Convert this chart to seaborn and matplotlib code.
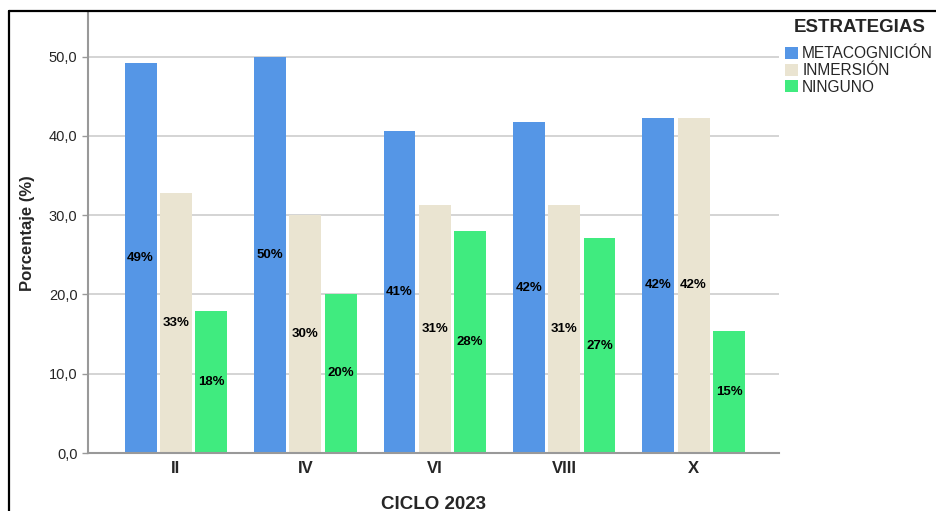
import matplotlib
matplotlib.use('Agg')
import matplotlib.pyplot as plt
from matplotlib.lines import Line2D
import seaborn as sns
import pandas as pd

# Data
ciclos = ['II', 'IV', 'VI', 'VIII', 'X']
estrategias = ['METACOGNICIÓN', 'INMERSIÓN', 'NINGUNO']
metacognicion = [49.2, 50.0, 40.6, 41.7, 42.3]
inmersion = [32.8, 30.0, 31.3, 31.3, 42.3]
ninguno = [17.9, 20.1, 28.0, 27.1, 15.4]
colores = ['#5596E6', '#EAE4D1', '#40EB7F']

df = pd.DataFrame({
    'ciclo': ciclos * 3,
    'estrategia': [e for e in estrategias for _ in ciclos],
    'pct': metacognicion + inmersion + ninguno,
})

sns.set_style('white')
plt.rcParams['font.family'] = ['Liberation Sans', 'DejaVu Sans']

fig = plt.figure(figsize=(9.37, 5.11), dpi=100)
ax = fig.add_axes([0.0939, 0.1135, 0.7375, 0.861])

sns.barplot(data=df, x='ciclo', y='pct', hue='estrategia', order=ciclos,
            hue_order=estrategias, palette=colores, width=0.82, gap=0.1,
            saturation=1, linewidth=0, ax=ax)

for cont in ax.containers:
    ax.bar_label(cont, labels=[f'{v:.0f}%' for v in cont.datavalues],
                 label_type='center', fontsize=9.5, fontweight='bold', color='black')

ax.set_ylim(0, 55.5)
ax.set_xlim(-0.68, 4.66)
ax.set_yticks([0, 10, 20, 30, 40, 50])
ax.set_yticklabels(['0,0', '10,0', '20,0', '30,0', '40,0', '50,0'], fontsize=10.5)
ax.tick_params(axis='x', labelsize=12, length=0, pad=6)
for t in ax.get_xticklabels():
    t.set_fontweight('bold')
ax.tick_params(axis='y', length=4, width=1, color='#999999', left=True)
ax.yaxis.grid(True, color='#d4d4d4', linewidth=1.4)
ax.set_axisbelow(True)

for s in ['top', 'right']:
    ax.spines[s].set_visible(False)
for s in ['left', 'bottom']:
    ax.spines[s].set_color('#999999')
    ax.spines[s].set_linewidth(1.5)

ax.set_xlabel('CICLO 2023', fontsize=13.5, fontweight='bold', labelpad=14)
ax.set_ylabel('Porcentaje (%)', fontsize=12, fontweight='bold', labelpad=10)

handles, labels = ax.get_legend_handles_labels()
ax.get_legend().remove()
fig.text(860 / 937, 1 - 28 / 511, 'ESTRATEGIAS', ha='center', va='center',
         fontsize=13.5, fontweight='bold')
fig.legend(handles, labels, loc='upper left',
           bbox_to_anchor=(782 / 937, 1 - 43 / 511), frameon=False,
           fontsize=11.2, handlelength=0.8, handleheight=0.8, handletextpad=0.3,
           labelspacing=0.12, borderaxespad=0, borderpad=0.2)

# outer frame lines (top and left) like the original export
fig.add_artist(Line2D([9 / 937, 1], [1 - 11 / 511, 1 - 11 / 511], color='black', linewidth=1.6))
fig.add_artist(Line2D([9 / 937, 9 / 937], [0, 1 - 11 / 511], color='black', linewidth=1.6))

plt.savefig('out.png', dpi=100)
plt.close()
